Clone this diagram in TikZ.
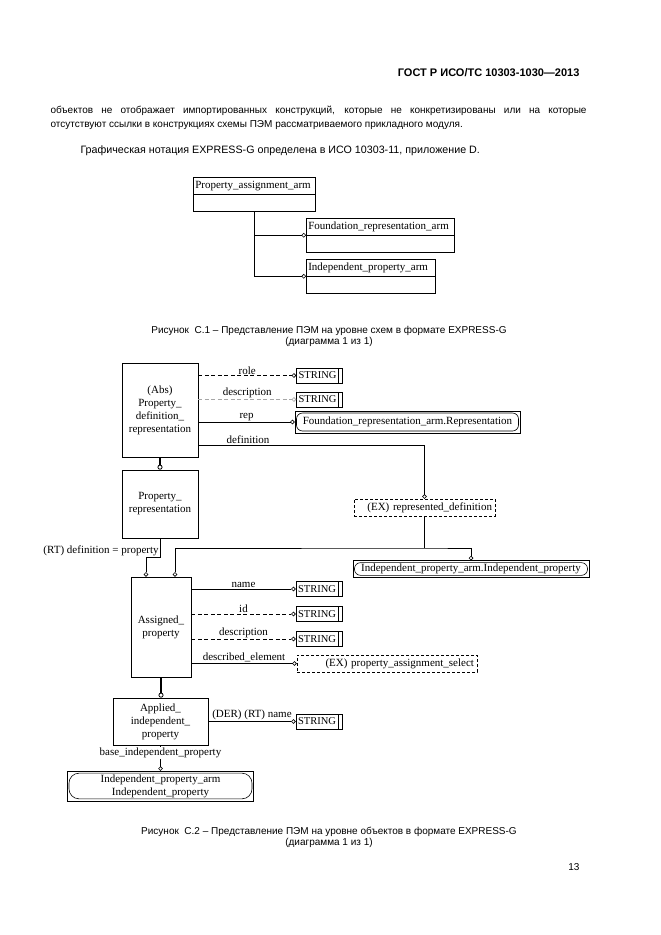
\documentclass[tikz,border=0pt]{standalone}
\usepackage{fontspec}
\setmainfont{Liberation Serif}
\newfontfamily\arialfont{Liberation Sans}
\usetikzlibrary{arrows.meta,positioning}
\newcommand{\efont}{\fontsize{11}{13}\selectfont}
\newcommand{\pfont}{\arialfont\fontsize{10}{12}\selectfont}
\tikzset{
  schema/.style={draw, line width=0.6pt, minimum height=16.5, inner xsep=2pt, align=left, font=\efont},
  entity/.style={draw, line width=0.7pt, align=center, font=\efont},
  strtype/.style={draw, line width=0.7pt, minimum width=46, minimum height=15, text width=42, align=left,
    inner xsep=2pt, font=\fontsize{10.5}{12}\selectfont,
    path picture={\draw[line width=0.7pt] ([xshift=-4pt]path picture bounding box.north east)
      -- ([xshift=-4pt]path picture bounding box.south east);}},
  extref/.style={draw, line width=0.6pt, align=center, font=\efont,
    path picture={\draw[line width=0.6pt, rounded corners=#1]
      ([xshift=1.5pt,yshift=-2pt]path picture bounding box.north west)
      rectangle ([xshift=-1.5pt,yshift=2pt]path picture bounding box.south east);}},
  extref/.default=6pt,
  selref/.style={draw, line width=0.6pt, dash pattern=on 3pt off 2pt, align=right, inner xsep=3pt, font=\efont},
  plain/.style={line width=0.6pt},
  attr/.style={line width=0.6pt, -{Circle[open, length=4.5pt, line width=0.6pt]}},
  optattr/.style={attr, dash pattern=on 4pt off 2.5pt},
  bothattr/.style={line width=0.6pt, {Circle[open, length=4.5pt, line width=0.6pt]}-{Circle[open, length=4.5pt, line width=0.6pt]}},
  subtype/.style={line width=2.2pt, -{Circle[open, length=5pt, line width=0.8pt]}},
  attrlbl/.style={font=\efont, inner sep=0pt}
}
\begin{document}
\begin{tikzpicture}[x=1pt, y=-1pt]
    \fill[white] (0,0) rectangle (661,935);
    \useasboundingbox (0,0) rectangle (661,935);

    % Page text
    \node[anchor=base east, font=\arialfont\fontsize{11}{13}\selectfont\bfseries] (hdr) at (583,76) {ГОСТ Р ИСО/ТС 10303-1030—2013};
    \node[anchor=base west, font=\pfont] (para1) at (47,113.5) {\makebox[536pt][s]{объектов не отображает импортированных конструкций, которые не конкретизированы или на которые}};
    \node[anchor=base west, font=\pfont] (para2) at (47,127.5) {отсутствуют ссылки в конструкциях схемы ПЭМ рассматриваемого прикладного модуля.};
    \node[anchor=base west, font=\arialfont\fontsize{10.7}{13}\selectfont] (para3) at (77,153) {Графическая нотация EXPRESS-G определена в ИСО 10303-11, приложение D.};

    % Schema level nodes
    \node[schema, text width=118, anchor=north west] (paa) at (193,177) {Property\_assignment\_arm};
    \node[schema, text width=118, below=0pt of paa] (paab) {};
    \node[schema, text width=144, anchor=north west] (frs) at (306,218) {Foundation\_representation\_arm};
    \node[schema, text width=144, below=0pt of frs] (frsb) {};
    \node[schema, text width=125, anchor=north west] (ips) at (306,259) {Independent\_property\_arm};
    \node[schema, text width=125, below=0pt of ips] (ipsb) {};

    % Schema level paths
    \draw[attr] (paab.south) |- (ips.south west);
    \draw[attr] (paab.south |- frs.south west) -- (frs.south west);

    \node[anchor=base, font=\pfont] (cap1) at (329,333.5) {Рисунок~~С.1 – Представление ПЭМ на уровне схем в формате EXPRESS-G};
    \node[anchor=base, font=\pfont] (cap1b) at (329,344) {(диаграмма 1 из 1)};

    % Entity level nodes
    \node[entity, minimum width=76, minimum height=94] (pdr) at (160,410) {(Abs)\\Property\_\\definition\_\\representation};
    \node[entity, minimum width=76, minimum height=68] (pr) at (160,504) {Property\_\\representation};
    \node[entity, minimum width=60, minimum height=100] (ap) at (161,627) {Assigned\_\\property};
    \node[entity, minimum width=95, minimum height=47] (aip) at (160.5,721.5) {Applied\_\\independent\_\\property};
    \node[strtype] (role) at (319.5,375.5) {STRING};
    \node[strtype] (pdrdesc) at (319.5,399.5) {STRING};
    \node[extref, minimum width=225, minimum height=22] (fra) at (407.5,422) {Foundation\_representation\_arm.Representation};
    \node[selref, text width=135, minimum height=15] (rdef) at (424.5,507.5) {(EX) represented\_definition};
    \node[extref, minimum width=236, minimum height=15] (ipa) at (471,569) {Independent\_property\_arm.Independent\_property};
    \node[strtype] (apname) at (319,589) {STRING};
    \node[strtype] (apid) at (319,614) {STRING};
    \node[strtype] (apdesc) at (319,639) {STRING};
    \node[selref, text width=174, minimum height=17] (pas) at (387,663.5) {(EX) property\_assignment\_select};
    \node[strtype] (aipname) at (319,721.5) {STRING};
    \node[extref=10pt, minimum width=186, minimum height=28] (ipb) at (160.5,786) {Independent\_property\_arm\\Independent\_property};
    \coordinate (defturn) at (rdef.north |- 0,445);
    \coordinate (repjoin) at (rdef.south |- 0,548);

    % Entity level paths
    \draw[optattr] (pdr.east |- role.west) -- node[attrlbl, above=1pt] {role} (role.west);
    \draw[optattr, draw=gray!70] (pdr.east |- pdrdesc.west) -- node[attrlbl, above=1pt, text=black] {description} (pdrdesc.west);
    \draw[attr] (pdr.east |- fra.west) -- node[attrlbl, above=1pt] {rep} (fra.west);
    \draw[attr] (pdr.east |- defturn) -- node[attrlbl, above=1pt, pos=0.22] {definition} (defturn) -- (rdef.north);
    \draw[subtype] (pdr.south) -- (pr.north);
    \draw[attr] (pr.south) -- node[attrlbl, left=1pt, pos=0.68] {(RT) definition = property} ++(0,19) -| ([xshift=-15pt]ap.north);
    \draw[plain] (rdef.south) -- (repjoin);
    \draw[bothattr] ([xshift=14pt]ap.north) |- (repjoin) -| (ipa.north);
    \draw[attr] (ap.east |- apname.west) -- node[attrlbl, above=1pt] {name} (apname.west);
    \draw[optattr] (ap.east |- apid.west) -- node[attrlbl, above=1pt] {id} (apid.west);
    \draw[optattr] (ap.east |- apdesc.west) -- node[attrlbl, above=1pt] {description} (apdesc.west);
    \draw[attr] (ap.east |- pas.west) -- node[attrlbl, above=1pt] {described\_element} (pas.west);
    \draw[subtype] (ap.south) -- (ap.south |- aip.north);
    \draw[attr] (aip.east |- aipname.west) -- node[attrlbl, above=1pt] {(DER) (RT) name} (aipname.west);
    \draw[attr] (aip.south) -- node[attrlbl, fill=white, inner ysep=1pt, pos=0.3] {base\_independent\_property} (ipb.north);

    \node[anchor=base, font=\pfont] (cap2) at (329,834.5) {Рисунок~~С.2 – Представление ПЭМ на уровне объектов в формате EXPRESS-G};
    \node[anchor=base, font=\pfont] (cap2b) at (329,845) {(диаграмма 1 из 1)};
    \node[anchor=base east, font=\pfont] (pgno) at (583,870.5) {13};
\end{tikzpicture}
\end{document}
